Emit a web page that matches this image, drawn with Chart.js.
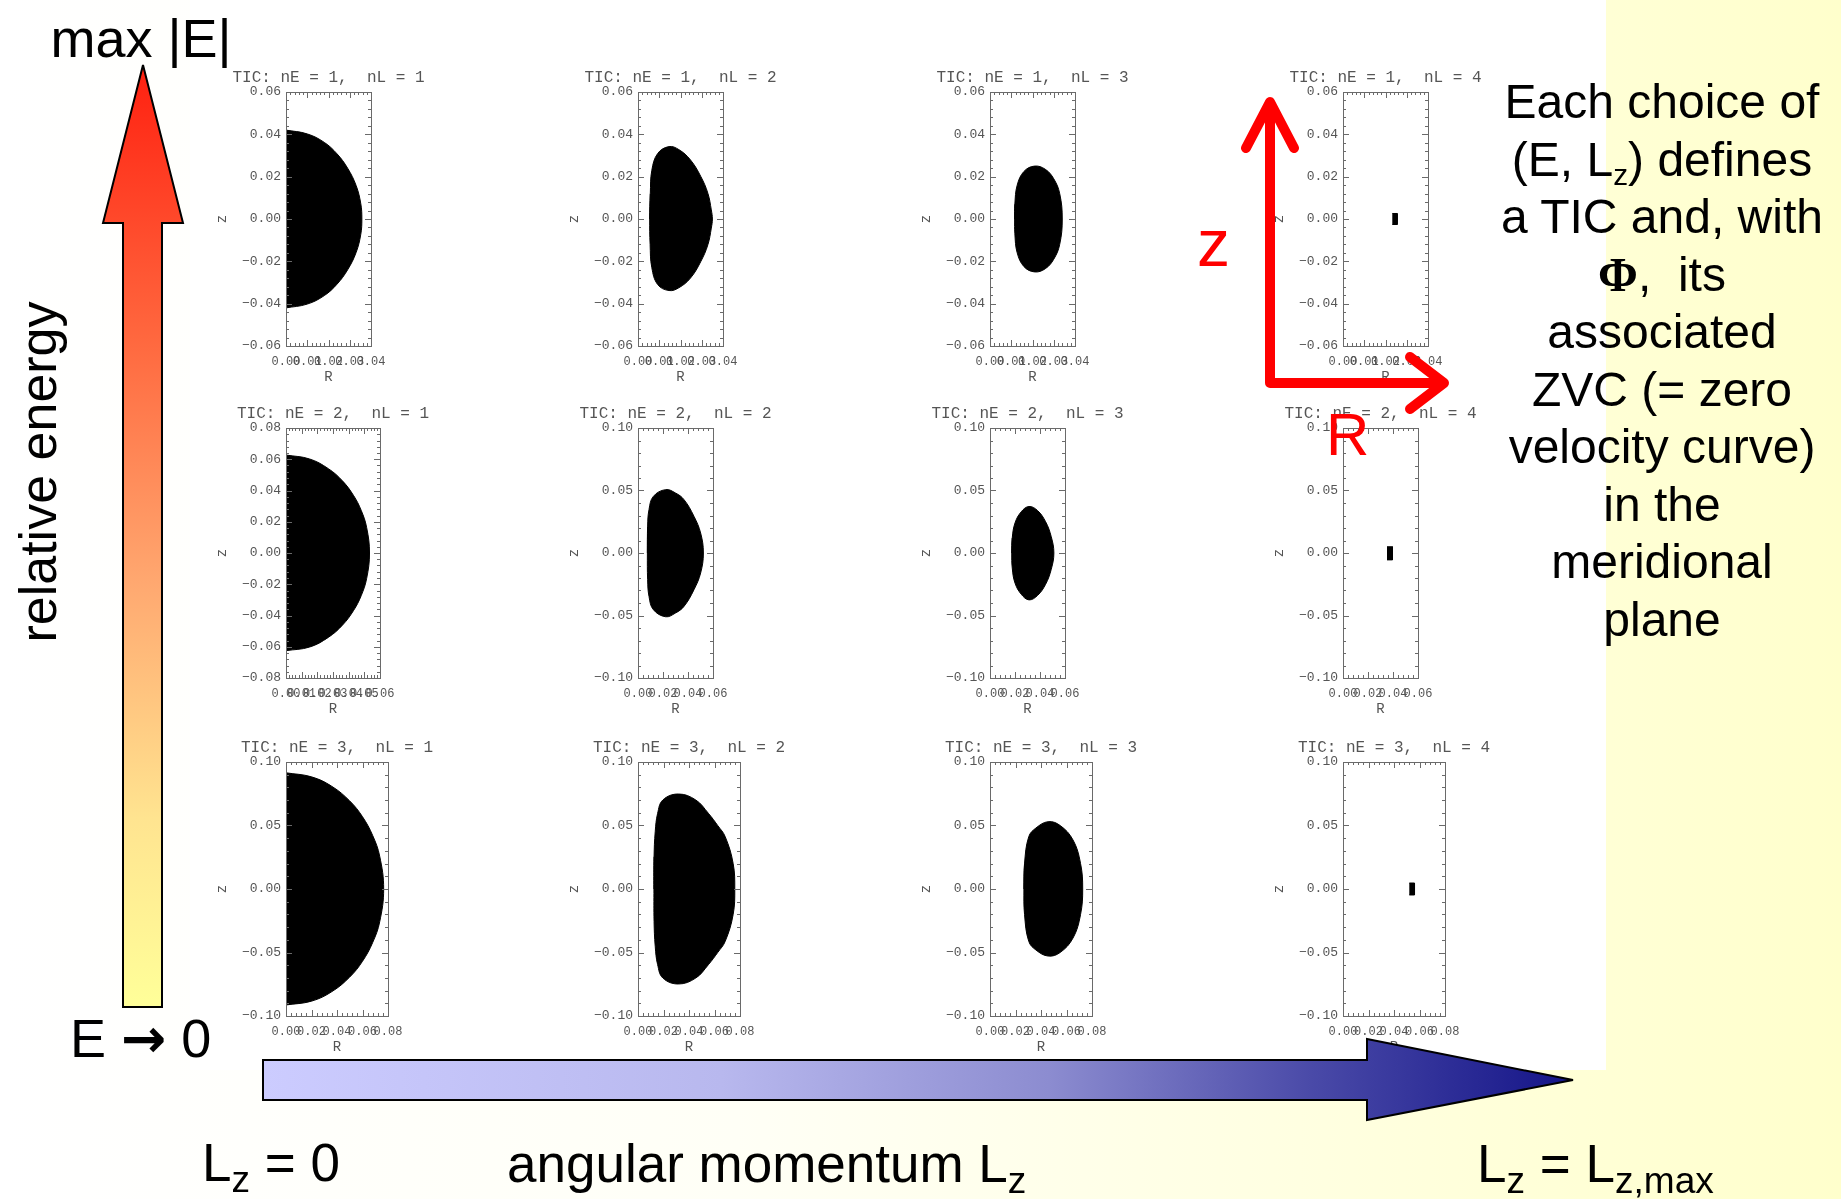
<!DOCTYPE html>
<html>
<head>
<meta charset="utf-8">
<script src="https://cdn.jsdelivr.net/npm/chart.js@4.4.1/dist/chart.umd.min.js"></script>
<style>
html, body { margin: 0; padding: 0; }
body {
    width: 1841px; height: 1199px; position: relative; overflow: hidden;
    background: linear-gradient(90deg, #ffffff 0%, #fffff6 40%, #ffffe0 72%, #ffffcc 100%);
    font-family: "Liberation Sans", Arial, sans-serif;
}
#sheet { position: absolute; left: 190px; top: 0; width: 1416px; height: 1070px; background: #fff; }
canvas.panel { position: absolute; z-index: 2; }
#deco { position: absolute; left: 0; top: 0; z-index: 5; }
.t { position: absolute; white-space: nowrap; line-height: 1; color: #000; z-index: 6; }
.t sub { font-size: 0.7em; vertical-align: -0.3em; line-height: 0; }
.arr { font-family: "DejaVu Sans", sans-serif; font-weight: bold; }
#note { position: absolute; left: 1462px; top: 73px; width: 400px; text-align: center;
        font-size: 48px; line-height: 57.5px; z-index: 6; }
#note sub { font-size: 0.62em; vertical-align: -0.3em; line-height: 0; }
.phi { font-family: "Liberation Serif", "Times New Roman", serif; font-weight: bold; }
</style>
</head>
<body>
<div id="sheet"></div>

<svg id="deco" width="1841" height="1199">
  <defs>
    <linearGradient id="gE" x1="0" y1="0" x2="0" y2="1">
      <stop offset="0" stop-color="#ff2010"/>
      <stop offset="0.3" stop-color="#ff6a40"/>
      <stop offset="0.55" stop-color="#ffa870"/>
      <stop offset="0.8" stop-color="#ffe490"/>
      <stop offset="1" stop-color="#ffff99"/>
    </linearGradient>
    <linearGradient id="gL" x1="0" y1="0" x2="1" y2="0">
      <stop offset="0" stop-color="#ccccff"/>
      <stop offset="0.35" stop-color="#b8b8ee"/>
      <stop offset="0.6" stop-color="#8c8cd0"/>
      <stop offset="0.8" stop-color="#4a4aa8"/>
      <stop offset="1" stop-color="#141488"/>
    </linearGradient>
  </defs>
  <polygon points="143,65 183,223 162,223 162,1007 123,1007 123,223 103,223" fill="url(#gE)" stroke="#000" stroke-width="2"/>
  <polygon points="263,1060 1367,1060 1367,1039 1573,1080 1367,1120 1367,1100 263,1100" fill="url(#gL)" stroke="#000" stroke-width="2"/>
  <g stroke="#ff0000" stroke-width="10" fill="none" stroke-linecap="round" stroke-linejoin="round">
    <polyline points="1270,104 1270,383 1440,383"/>
    <polyline points="1246,148 1270,102 1294,148"/>
    <polyline points="1410,357 1444,383 1410,409"/>
  </g>
</svg>

<div class="t" style="left:141px;top:11px;font-size:54px;transform:translateX(-50%)">max |E|</div>
<div class="t" style="left:38px;top:472px;font-size:52px;transform:translate(-50%,-50%) rotate(-90deg)">relative energy</div>
<div class="t" style="left:70px;top:1011px;font-size:54px">E <span class="arr">→</span> 0</div>
<div class="t" style="left:202px;top:1136px;font-size:53px">L<sub>z</sub> = 0</div>
<div class="t" style="left:507px;top:1137px;font-size:53px">angular momentum L<sub>z</sub></div>
<div class="t" style="left:1477px;top:1137px;font-size:53px">L<sub>z</sub> = L<sub>z,max</sub></div>
<div class="t" style="left:1197px;top:210px;font-size:66px;color:#ff0000">z</div>
<div class="t" style="left:1326px;top:405px;font-size:60px;color:#ff0000">R</div>
<div id="note">Each choice of<br>(E, L<sub>z</sub>) defines<br>a TIC and, with<br><span class="phi">Φ</span>,&nbsp; its<br>associated<br>ZVC (= zero<br>velocity curve)<br>in the<br>meridional<br>plane</div>

<script>
// TIC indices
const nE = [1, 2, 3];
const nL = [1, 2, 3, 4];

// axis ticks (z vertical, R horizontal)
const zTicks06 = [-0.06, -0.04, -0.02, 0, 0.02, 0.04, 0.06];
const zTicks08 = [-0.08, -0.06, -0.04, -0.02, 0, 0.02, 0.04, 0.06, 0.08];
const zTicks10 = [-0.10, -0.05, 0, 0.05, 0.10];
const rTicks04 = [0, 0.01, 0.02, 0.03, 0.04];
const rTicks06a = [0, 0.01, 0.02, 0.03, 0.04, 0.05, 0.06];
const rTicks06 = [0, 0.02, 0.04, 0.06];
const rTicks08 = [0, 0.02, 0.04, 0.06, 0.08];

// zero velocity curves, [R, z]
const zvc11 = [[0,0.042],[0.010,0.0402],[0.018,0.0362],[0.024,0.0308],[0.029,0.0240],[0.033,0.0158],[0.0352,0.0072],[0.0357,0],
               [0.0352,-0.0072],[0.033,-0.0158],[0.029,-0.0240],[0.024,-0.0308],[0.018,-0.0362],[0.010,-0.0402],[0,-0.042]];
const zvc12 = [[0.0055,0],[0.0058,0.012],[0.0065,0.023],[0.0093,0.031],[0.0146,0.0342],[0.0192,0.0328],[0.0247,0.0279],
               [0.0296,0.020],[0.0329,0.0121],[0.0345,0.0043],[0.0350,0],[0.0345,-0.0043],[0.0329,-0.0121],[0.0296,-0.020],
               [0.0247,-0.0279],[0.0192,-0.0325],[0.0146,-0.0338],[0.0093,-0.031],[0.0065,-0.023],[0.0057,-0.012],[0.0055,0]];
const zvc13 = [[0.0116,0],[0.0117,0.007],[0.0128,0.016],[0.016,0.0225],[0.021,0.025],[0.026,0.0235],[0.030,0.019],[0.0328,0.012],
               [0.034,0],[0.0328,-0.012],[0.030,-0.019],[0.026,-0.0235],[0.021,-0.025],[0.016,-0.0225],[0.0128,-0.016],
               [0.0117,-0.007],[0.0116,0]];
const zvc14 = [[0.0232,0.0026],[0.0255,0.0026],[0.0255,-0.0026],[0.0232,-0.0026]];
const zvc21 = [[0,0.0627],[0.015,0.0602],[0.027,0.054],[0.036,0.0462],[0.043,0.037],[0.048,0.0273],[0.0515,0.0162],[0.0533,0],
               [0.0515,-0.0162],[0.048,-0.0273],[0.043,-0.037],[0.036,-0.0462],[0.027,-0.054],[0.015,-0.0602],[0,-0.0625]];
const zvc22 = [[0.0075,0],[0.0077,0.0213],[0.0088,0.0347],[0.0123,0.0453],[0.0221,0.0507],[0.030,0.048],[0.0368,0.0427],
               [0.0448,0.0293],[0.0501,0.016],[0.0523,0],[0.0501,-0.016],[0.0448,-0.0293],[0.0368,-0.0427],[0.030,-0.048],
               [0.0221,-0.051],[0.0123,-0.0453],[0.0088,-0.0347],[0.0077,-0.0213],[0.0075,0]];
const zvc23 = [[0.0174,0],[0.0178,0.012],[0.020,0.024],[0.025,0.033],[0.0312,0.0372],[0.038,0.034],[0.0445,0.025],[0.049,0.013],
               [0.0511,0],[0.049,-0.013],[0.0445,-0.025],[0.038,-0.034],[0.0312,-0.0375],[0.025,-0.033],[0.020,-0.024],
               [0.0178,-0.012],[0.0174,0]];
const zvc24 = [[0.0352,0.005],[0.0396,0.005],[0.0396,-0.0055],[0.0352,-0.0055]];
const zvc31 = [[0,0.0915],[0.020,0.0883],[0.036,0.0808],[0.050,0.0693],[0.060,0.0569],[0.068,0.0421],[0.0735,0.0258],[0.0766,0],
               [0.0735,-0.0258],[0.068,-0.0421],[0.060,-0.0569],[0.050,-0.0693],[0.036,-0.0808],[0.020,-0.0883],[0,-0.0913]];
const zvc32 = [[0.0125,0],[0.0126,0.0255],[0.0135,0.045],[0.0154,0.0596],[0.0195,0.0701],[0.0317,0.0748],[0.0453,0.0701],
               [0.0552,0.0596],[0.0625,0.050],[0.0684,0.0412],[0.0746,0.0202],[0.0759,0],[0.0746,-0.0202],[0.0684,-0.0412],
               [0.0625,-0.050],[0.0552,-0.0596],[0.0453,-0.0701],[0.0317,-0.0748],[0.0195,-0.0701],[0.0154,-0.0596],
               [0.0135,-0.045],[0.0126,-0.0255],[0.0125,0]];
const zvc33 = [[0.0266,0],[0.0271,0.0202],[0.0304,0.0412],[0.036,0.048],[0.0456,0.053],[0.055,0.050],[0.0651,0.0386],[0.071,0.0202],
               [0.0727,0],[0.071,-0.0202],[0.0651,-0.0386],[0.055,-0.050],[0.0456,-0.0528],[0.036,-0.048],[0.0304,-0.0412],
               [0.0271,-0.0202],[0.0266,0]];
const zvc34 = [[0.052,0.0047],[0.0561,0.0047],[0.0561,-0.0047],[0.052,-0.0047]];

const shapes = [[zvc11, zvc12, zvc13, zvc14], [zvc21, zvc22, zvc23, zvc24], [zvc31, zvc32, zvc33, zvc34]];
const zTicksOf = [[zTicks06, zTicks06, zTicks06, zTicks06], [zTicks08, zTicks10, zTicks10, zTicks10], [zTicks10, zTicks10, zTicks10, zTicks10]];
const rTicksOf = [[rTicks04, rTicks04, rTicks04, rTicks04], [rTicks06a, rTicks06, rTicks06, rTicks06], [rTicks08, rTicks08, rTicks08, rTicks08]];

// page layout of the plot boxes
const boxLeft = [286, 638, 990, 1343];
const boxTop = [92, 428, 762];
const boxHeight = [254, 250, 254];

const AX_L = 76, AX_B = 44, PAD_T = 4, TITLE_H = 22;
const mono = "'Liberation Mono', 'DejaVu Sans Mono', monospace";
const grey = '#555';

function fmt(v) {
    return (v < 0 ? '\u2212' : '') + Math.abs(v).toFixed(2);
}

// IDL style box with inward major and minor ticks
const idlBox = {
    id: 'idlBox',
    afterDatasetsDraw(chart) {
        const {ctx, chartArea: a, scales: {x, y}} = chart;
        ctx.save();
        ctx.strokeStyle = '#6a6a6a';
        ctx.lineWidth = 1;
        ctx.strokeRect(Math.round(a.left) + 0.5, Math.round(a.top) + 0.5, Math.round(a.width), Math.round(a.height));
        ctx.beginPath();
        const xt = x.ticks.map(t => t.value);
        xt.forEach((v, i) => {
            const px = Math.round(x.getPixelForValue(v)) + 0.5;
            ctx.moveTo(px, a.bottom); ctx.lineTo(px, a.bottom - 6);
            ctx.moveTo(px, a.top); ctx.lineTo(px, a.top + 6);
            if (i < xt.length - 1) {
                for (let k = 1; k < 5; k++) {
                    const m = Math.round(x.getPixelForValue(v + (xt[i + 1] - v) * k / 5)) + 0.5;
                    ctx.moveTo(m, a.bottom); ctx.lineTo(m, a.bottom - 3);
                    ctx.moveTo(m, a.top); ctx.lineTo(m, a.top + 3);
                }
            }
        });
        const yt = y.ticks.map(t => t.value);
        yt.forEach((v, i) => {
            const py = Math.round(y.getPixelForValue(v)) + 0.5;
            ctx.moveTo(a.left, py); ctx.lineTo(a.left + 6, py);
            ctx.moveTo(a.right, py); ctx.lineTo(a.right - 6, py);
            if (i < yt.length - 1) {
                for (let k = 1; k < 5; k++) {
                    const m = Math.round(y.getPixelForValue(v + (yt[i + 1] - v) * k / 5)) + 0.5;
                    ctx.moveTo(a.left, m); ctx.lineTo(a.left + 3, m);
                    ctx.moveTo(a.right, m); ctx.lineTo(a.right - 3, m);
                }
            }
        });
        ctx.stroke();
        ctx.restore();
    }
};

function makePanel(row, col) {
    const zt = zTicksOf[row][col], rt = rTicksOf[row][col];
    const zMin = zt[0], zMax = zt[zt.length - 1];
    const rMin = rt[0], rMax = rt[rt.length - 1];
    const h = boxHeight[row];
    const w = Math.round(h * (rMax - rMin) / (zMax - zMin));
    const W = AX_L + w + AX_L, H = PAD_T + TITLE_H + h + AX_B;
    const cv = document.createElement('canvas');
    cv.className = 'panel';
    cv.width = W; cv.height = H;
    cv.style.width = W + 'px'; cv.style.height = H + 'px';
    cv.style.left = (boxLeft[col] - AX_L) + 'px';
    cv.style.top = (boxTop[row] - PAD_T - TITLE_H) + 'px';
    document.body.appendChild(cv);

    let pts = shapes[row][col];
    const tiny = pts.length <= 4;
    const closed = !tiny && pts[0][0] === pts[pts.length - 1][0] && pts[0][1] === pts[pts.length - 1][1];
    // run one point past the start so the closing joint is smooth
    if (closed) pts = pts.concat([pts[1]]);

    const chart = new Chart(cv, {
        type: 'line',
        data: {
            datasets: [{
                data: pts.map(p => ({x: p[0], y: p[1]})),
                fill: 'shape',
                backgroundColor: '#000',
                borderColor: '#000',
                borderWidth: 1,
                pointRadius: 0,
                tension: tiny ? 0 : 0.4
            }]
        },
        options: {
            responsive: false,
            animation: false,
            devicePixelRatio: 1,
            layout: { padding: { top: PAD_T, right: 0, left: 0, bottom: 0 } },
            plugins: {
                legend: { display: false },
                tooltip: { enabled: false },
                title: {
                    display: true,
                    text: 'TIC: nE = ' + nE[row] + ',  nL = ' + nL[col],
                    color: grey,
                    font: { family: mono, size: 16, weight: 'normal', lineHeight: 1 },
                    padding: { top: 0, bottom: 6 }
                }
            },
            scales: {
                x: {
                    type: 'linear', min: rMin, max: rMax,
                    afterFit(s) { s.height = AX_B; },
                    afterBuildTicks(s) { s.ticks = rt.map(v => ({value: v})); },
                    grid: { display: false, drawTicks: false },
                    border: { display: false },
                    ticks: { autoSkip: false, maxRotation: 0, minRotation: 0, padding: 9, color: grey,
                             font: { family: mono, size: 12 }, callback: v => fmt(v) },
                    title: { display: true, text: 'R', color: grey, font: { family: mono, size: 14 },
                             padding: { top: 4, bottom: 4 } }
                },
                y: {
                    type: 'linear', min: zMin, max: zMax,
                    afterFit(s) { s.width = AX_L; },
                    afterBuildTicks(s) { s.ticks = zt.map(v => ({value: v})); },
                    grid: { display: false, drawTicks: false },
                    border: { display: false },
                    ticks: { autoSkip: false, padding: 5, color: grey,
                             font: { family: mono, size: 13 }, callback: v => fmt(v) },
                    title: { display: true, text: 'z', color: grey, font: { family: mono, size: 14 },
                             padding: { top: 4, bottom: 4 } }
                },
                // empty right axis, keeps the title centred over the box
                yr: {
                    type: 'linear', position: 'right', min: zMin, max: zMax,
                    afterFit(s) { s.width = AX_L; },
                    grid: { display: false, drawTicks: false },
                    border: { display: false },
                    ticks: { display: false }
                }
            }
        },
        plugins: [idlBox]
    });

    // nudge so the plot box sits exactly on its place
    const a = chart.chartArea;
    cv.style.left = (boxLeft[col] - a.left) + 'px';
    cv.style.top = (boxTop[row] - a.top) + 'px';
}

for (let r = 0; r < nE.length; r++) {
    for (let c = 0; c < nL.length; c++) makePanel(r, c);
}
</script>
</body>
</html>
